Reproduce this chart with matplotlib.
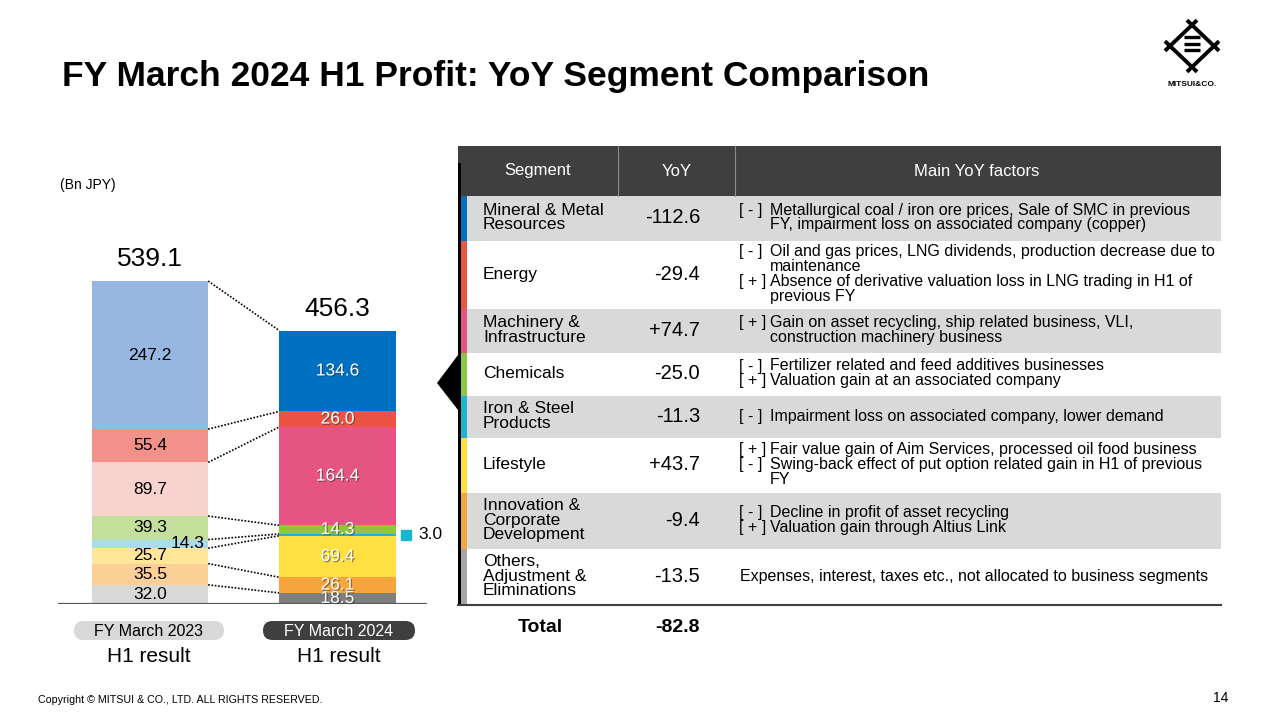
import matplotlib.pyplot as plt
import matplotlib.patheffects as pe
from matplotlib.patches import FancyBboxPatch, Rectangle, Polygon
import numpy as np

plt.rcParams['font.family'] = ['Liberation Sans', 'DejaVu Sans']

# Daten (Mrd. JPY), Reihenfolge von oben nach unten wie in der Tabelle
segments = ['Mineral & Metal\nResources', 'Energy', 'Machinery &\nInfrastructure', 'Chemicals',
            'Iron & Steel\nProducts', 'Lifestyle', 'Innovation &\nCorporate\nDevelopment',
            'Others,\nAdjustment &\nEliminations']
fy2023 = [247.2, 55.4, 89.7, 39.3, 14.3, 25.7, 35.5, 32.0]
fy2024 = [134.6, 26.0, 164.4, 14.3, 3.0, 69.4, 26.1, 18.5]
yoy = [-112.6, -29.4, 74.7, -25.0, -11.3, 43.7, -9.4, -13.5]
total_yoy = -82.8
bar_labels = ['FY March 2023', 'FY March 2024']

factors = [
    [('[ - ]', 'Metallurgical coal / iron ore prices, Sale of SMC in previous'),
     ('', 'FY, impairment loss on associated company (copper)')],
    [('[ - ]', 'Oil and gas prices, LNG dividends, production decrease due to'),
     ('', 'maintenance'),
     ('[ + ]', 'Absence of derivative valuation loss in LNG trading in H1 of'),
     ('', 'previous FY')],
    [('[ + ]', 'Gain on asset recycling, ship related business, VLI,'),
     ('', 'construction machinery business')],
    [('[ - ]', 'Fertilizer related and feed additives businesses'),
     ('[ + ]', 'Valuation gain at an associated company')],
    [('[ - ]', 'Impairment loss on associated company, lower demand')],
    [('[ + ]', 'Fair value gain of Aim Services, processed oil food business'),
     ('[ - ]', 'Swing-back effect of put option related gain in H1 of previous'),
     ('', 'FY')],
    [('[ - ]', 'Decline in profit of asset recycling'),
     ('[ + ]', 'Valuation gain through Altius Link')],
    [('', 'Expenses, interest, taxes etc., not allocated to business segments')],
]

light_colors = ['#95B7E1', '#F1918A', '#F9D2D0', '#C4DF9B', '#A9DDEA', '#FFE699', '#FBCF95', '#D9D9D9']
dark_colors = ['#0070C0', '#EB5444', '#E55482', '#8DC63F', '#1CB5CF', '#FFE043', '#F6A53C', '#7F7F7F']
stripe_colors = dark_colors[:-1] + ['#A6A6A6']

fig = plt.figure(figsize=(12.8, 7.2), dpi=100)

# Balkendiagramm
ax = fig.add_axes([58 / 1280, (720 - 604) / 720, (427 - 58) / 1280, 600 * 0.599 / 720])
ax.set_xlim(-0.4907, 1.477)
ax.set_ylim(0, 600)
ax.axis('off')
w = 0.62

for xi, vals, cols in [(0, fy2023, light_colors), (1, fy2024, dark_colors)]:
    bottom = 0
    for k in range(len(vals) - 1, -1, -1):
        ax.bar(xi, vals[k], width=w, bottom=bottom, color=cols[k], edgecolor='none', zorder=2)
        cy = bottom + vals[k] / 2
        if xi == 0:
            tx = 0.2 if k == 4 else 0
            ax.text(tx, cy, f'{vals[k]:.1f}', ha='center', va='center', fontsize=12.5,
                    color='black', zorder=4)
        elif k == 4:
            ax.plot(1.365, cy, marker='s', ms=7, color=cols[k], clip_on=False)
            ax.text(1.43, cy, f'{vals[k]:.1f}', ha='left', va='center', fontsize=12.5,
                    color='black', zorder=4)
        else:
            ax.text(1, cy, f'{vals[k]:.1f}', ha='center', va='center', fontsize=12.5,
                    color='white', zorder=4,
                    path_effects=[pe.withSimplePatchShadow(offset=(0.8, -0.8),
                                                           shadow_rgbFace='#333333', alpha=0.6)])
        bottom += vals[k]
    ax.text(xi, bottom + 37, f'{bottom:.1f}', ha='center', va='center', fontsize=19)

# gepunktete Verbindungslinien zwischen den Segmentgrenzen
cum23 = np.cumsum(fy2023[::-1])
cum24 = np.cumsum(fy2024[::-1])
for a, b in zip(cum23, cum24):
    ax.plot([w / 2, 1 - w / 2], [a, b], ls=(0, (1, 1)), color='black', lw=1.2, zorder=1)
ax.axhline(0, color='#595959', lw=1.6, zorder=3)

# Overlay in Pixelkoordinaten
ov = fig.add_axes([0, 0, 1, 1])
ov.set_xlim(0, 1280)
ov.set_ylim(720, 0)
ov.axis('off')

ov.text(62, 86, 'FY March 2024 H1 Profit: YoY Segment Comparison', fontsize=25.5,
        fontweight='bold', va='baseline', ha='left')
ov.text(60, 185, '(Bn JPY)', fontsize=10, va='center', ha='left')
ov.text(38, 700, 'Copyright \u00a9 MITSUI & CO., LTD. ALL RIGHTS RESERVED.', fontsize=7.7,
        va='center', ha='left')
ov.text(1228, 698, '14', fontsize=10, va='center', ha='right')

# Logo
cx = [(1192, 25), (1214, 46), (1192, 67), (1170, 46)]
for i in range(4):
    p, q = np.array(cx[i]), np.array(cx[(i + 1) % 4])
    d = (q - p) / np.linalg.norm(q - p)
    s, e = p - d * 7, q + d * 7
    ov.plot([s[0], e[0]], [s[1], e[1]], color='black', lw=2.8, solid_capstyle='butt')
for yb in [37, 43.5, 50]:
    ov.plot([1184, 1200], [yb, yb], color='black', lw=2.4, solid_capstyle='butt')
ov.text(1192, 84, 'MITSUI&CO.', fontsize=6, fontweight='bold', ha='center', va='center')

# Beschriftungen unter den Balken
pill_x = [(74, 224), (263, 415)]
pill_fc = ['#D9D9D9', '#3F3F3F']
pill_tc = ['black', 'white']
for (x0, x1), fc, tc, lab in zip(pill_x, pill_fc, pill_tc, bar_labels):
    ov.add_patch(FancyBboxPatch((x0, 621), x1 - x0, 19,
                                boxstyle='round,pad=0,rounding_size=9.5', fc=fc, ec='none'))
    ov.text((x0 + x1) / 2, 631, lab, color=tc, fontsize=11.5, ha='center', va='center')
    ov.text((x0 + x1) / 2, 656, 'H1 result', fontsize=15, ha='center', va='center')

# Tabelle
left, right = 458, 1221
ov.add_patch(Rectangle((left, 146), right - left, 50, fc='#3F3F3F', ec='none'))
for xd in [618, 735]:
    ov.plot([xd, xd], [146, 196], color='#8C8C8C', lw=0.8)
for xh, txt in [(538, 'Segment'), (677, 'YoY'), (977, 'Main YoY factors')]:
    ov.text(xh, 171, txt, color='white', fontsize=12, ha='center', va='center')

row_edges = [196, 241, 309, 353, 396, 438, 493, 549, 605]
for r in range(len(segments)):
    y0, y1 = row_edges[r], row_edges[r + 1]
    mid = (y0 + y1) / 2 - 1
    if r % 2 == 0:
        ov.add_patch(Rectangle((463, y0), right - 463, y1 - y0, fc='#D9D9D9', ec='none'))
    ov.add_patch(Rectangle((461, y0), 6, y1 - y0, fc=stripe_colors[r], ec='none'))
    names = segments[r].split('\n')
    for i, nm in enumerate(names):
        yy = mid + (i - (len(names) - 1) / 2) * 14.5
        ov.text(483, yy, nm, fontsize=12.5, ha='left', va='center')
    ov.text(700, mid, f'{yoy[r]:+.1f}', fontsize=14.5, ha='right', va='center')
    lines = factors[r]
    for i, (pre, body) in enumerate(lines):
        yy = mid + (i - (len(lines) - 1) / 2) * 15
        if pre:
            ov.text(739, yy, pre, fontsize=11.5, ha='left', va='center')
            ov.text(770, yy, body, fontsize=11.5, ha='left', va='center')
        else:
            bx = 770 if len(lines) > 1 else 740
            ov.text(bx, yy, body, fontsize=11.5, ha='left', va='center')

ov.add_patch(Rectangle((457.5, 163), 3, 605 - 163, fc='black', ec='none'))
ov.plot([left, right], [605, 605], color='#404040', lw=1.5)
ov.add_patch(Polygon([(437, 383), (458, 355), (458, 410)], closed=True, fc='black', ec='none'))

ov.text(540, 627, 'Total', fontsize=14, fontweight='bold', ha='center', va='center')
ov.text(700, 627, f'{total_yoy:.1f}', fontsize=14, fontweight='bold', ha='right', va='center')

fig.savefig('out.png', dpi=100)
